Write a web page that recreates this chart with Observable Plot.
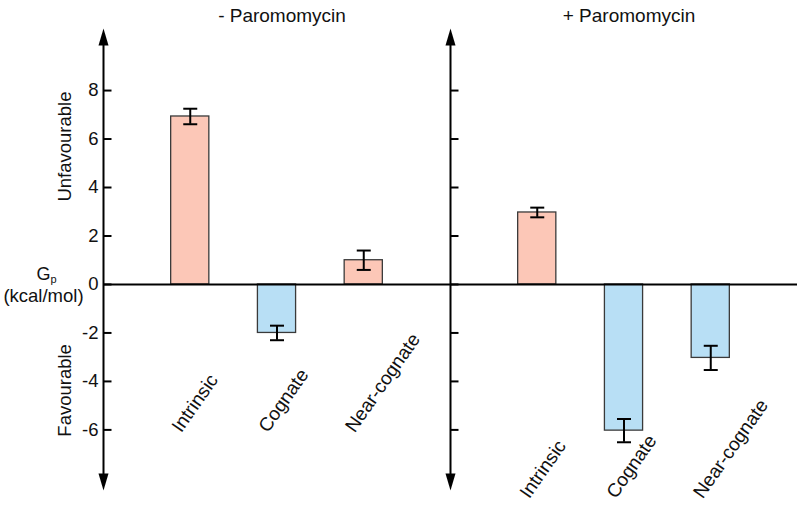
<!DOCTYPE html>
<html>
<head>
<meta charset="utf-8">
<script src="https://cdn.jsdelivr.net/npm/d3@7"></script>
<script src="https://cdn.jsdelivr.net/npm/@observablehq/plot@0.6"></script>
<style>
  html, body { margin: 0; padding: 0; background: #fff; }
  #chart { width: 800px; height: 508px; }
</style>
</head>
<body>
<div id="chart"></div>
<script>
// ---- data ----
const panels = ["- Paromomycin", "+ Paromomycin"];
const categories = ["Intrinsic", "Cognate", "Near-cognate"];
const minusValues = [6.93, -2.0, 1.0];
const minusErrors = [0.32, 0.3, 0.4];
const plusValues = [2.97, -6.03, -3.03];
const plusErrors = [0.2, 0.48, 0.5];
const yTicks = [8, 6, 4, 2, 0, -2, -4, -6];
const yDomain = [-8.5, 10.56];
const yLabels = ["Unfavourable", "Favourable"];
const unitLabel = ["G", "p", "(kcal/mol)"];

// ---- build table ----
const valuesByPanel = [minusValues, plusValues];
const errorsByPanel = [minusErrors, plusErrors];
const rows = panels.flatMap((p, pi) => categories.map((c, ci) => ({
  panel: p, pi, category: c,
  slot: pi * (categories.length + 1) + ci + 1,
  value: valuesByPanel[pi][ci],
  err: errorsByPanel[pi][ci]
})));
const axisSlots = panels.map((p, pi) => pi * (categories.length + 1));
const lastSlot = panels.length * (categories.length + 1);
const tickRows = axisSlots.flatMap(s => yTicks.map(t => ({s, t})));

const pink = "#fcc7b7";
const blue = "#b8dff5";
const font = "'Liberation Sans', Arial, Helvetica, sans-serif";

// custom symbols (pixel-sized)
const upArrow = { draw(ctx) { ctx.moveTo(0, 0); ctx.lineTo(5, 17); ctx.lineTo(-5, 17); ctx.closePath(); } };
const downArrow = { draw(ctx) { ctx.moveTo(0, 0); ctx.lineTo(5, -17); ctx.lineTo(-5, -17); ctx.closePath(); } };
const tickMark = { draw(ctx) { ctx.moveTo(0, 0); ctx.lineTo(8, 0); } };
const capMark = { draw(ctx) { ctx.moveTo(-7, 0); ctx.lineTo(7, 0); } };

const halfBar = 0.22;

const chart = Plot.plot({
  width: 800,
  height: 508,
  marginLeft: 103,
  marginRight: 3,
  marginTop: 28,
  marginBottom: 18,
  style: { fontFamily: font, fontSize: "18px", background: "#fff" },
  x: { domain: [0, lastSlot], axis: null },
  y: { domain: yDomain, axis: null },
  marks: [
    // bars
    Plot.rect(rows, {
      x1: d => d.slot - halfBar, x2: d => d.slot + halfBar,
      y1: 0, y2: "value",
      fill: d => d.value >= 0 ? pink : blue,
      stroke: "#3a3a3a", strokeWidth: 1.3
    }),
    // zero line
    Plot.ruleY([0], { x1: 0, x2: lastSlot, stroke: "#000", strokeWidth: 2 }),
    // error bars
    Plot.ruleX(rows, { x: "slot", y1: d => d.value - d.err, y2: d => d.value + d.err, stroke: "#000", strokeWidth: 2 }),
    Plot.dot(rows, { x: "slot", y: d => d.value + d.err, symbol: capMark, stroke: "#000", strokeWidth: 2, fill: "none" }),
    Plot.dot(rows, { x: "slot", y: d => d.value - d.err, symbol: capMark, stroke: "#000", strokeWidth: 2, fill: "none" }),
    // vertical axes
    Plot.ruleX(axisSlots, { y1: yDomain[0] + 0.5, y2: yDomain[1] - 0.5, stroke: "#000", strokeWidth: 2 }),
    Plot.dot(axisSlots, { x: d => d, y: yDomain[1], symbol: upArrow, fill: "#000", stroke: "none" }),
    Plot.dot(axisSlots, { x: d => d, y: yDomain[0], symbol: downArrow, fill: "#000", stroke: "none" }),
    Plot.dot(tickRows, { x: "s", y: "t", symbol: tickMark, stroke: "#000", strokeWidth: 2, fill: "none" }),
    // tick labels (left axis)
    Plot.text(yTicks, { x: 0, y: d => d, text: d => String(d), textAnchor: "end", dx: -5, fontSize: 18.5, fill: "#111" }),
    // panel titles
    Plot.text(panels, { x: (d, i) => axisSlots[i] + 2, frameAnchor: "top", dy: -7, dx: 5, lineAnchor: "bottom", fontSize: 19, fill: "#111" }),
    // category labels
    Plot.text(rows.filter(d => d.pi === 0), { x: "slot", text: "category", frameAnchor: "bottom", dy: -57, dx: -9, rotate: -55, textAnchor: "start", lineAnchor: "bottom", fontSize: 19, fill: "#111" }),
    Plot.text(rows.filter(d => d.pi === 1), { x: "slot", text: "category", frameAnchor: "bottom", dy: 9, dx: -8, rotate: -55, textAnchor: "start", lineAnchor: "bottom", fontSize: 19, fill: "#111" }),
    // y side labels
    Plot.text([yLabels[0]], { frameAnchor: "left", y: 5.69, dx: -33, rotate: -90, textAnchor: "middle", lineAnchor: "bottom", fontSize: 18.5, fill: "#111" }),
    Plot.text([yLabels[1]], { frameAnchor: "left", y: -4.37, dx: -33, rotate: -90, textAnchor: "middle", lineAnchor: "bottom", fontSize: 18.5, fill: "#111" }),
    // unit label
    Plot.text([unitLabel[0]], { frameAnchor: "left", y: 0, dx: -53, dy: -4, textAnchor: "end", lineAnchor: "bottom", fontSize: 18, fill: "#111" }),
    Plot.text([unitLabel[1]], { frameAnchor: "left", y: 0, dx: -53, dy: -1, textAnchor: "start", lineAnchor: "bottom", fontSize: 11, fill: "#111" }),
    Plot.text([unitLabel[2]], { frameAnchor: "left", y: 0, dx: -60, dy: 18, textAnchor: "middle", lineAnchor: "bottom", fontSize: 18.5, fill: "#111" })
  ]
});
document.getElementById("chart").appendChild(chart);
</script>
</body>
</html>
